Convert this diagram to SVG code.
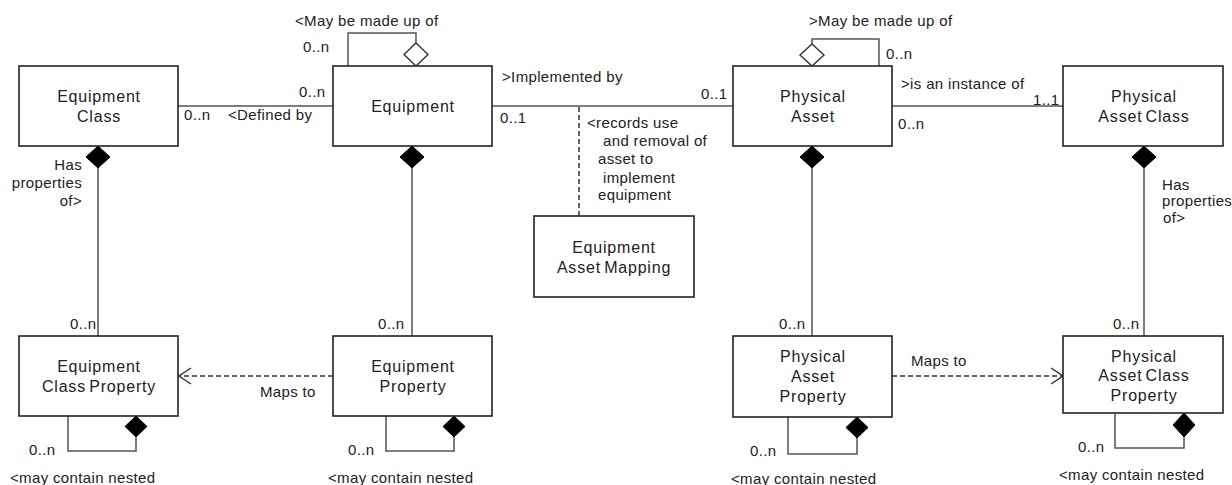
<svg xmlns="http://www.w3.org/2000/svg" width="1232" height="485" viewBox="0 0 1232 485">
<style>
.box{fill:#fff;stroke:#222;stroke-width:1.6}
.nt{font-family:"Liberation Sans",Arial,sans-serif;font-size:16px;letter-spacing:0.8px;word-spacing:-2px;fill:#222;text-anchor:middle}
.lb{font-family:"Liberation Sans",Arial,sans-serif;font-size:15px;letter-spacing:0.35px;fill:#222}
.ln{fill:none;stroke:#555;stroke-width:1.5}
.dash{fill:none;stroke:#333;stroke-width:1.5;stroke-dasharray:5 3}
.fd{fill:#000;stroke:#000;stroke-width:1}
.hd{fill:#fff;stroke:#333;stroke-width:1.4}
</style>
<defs>
<marker id="open" viewBox="0 0 14 18" refX="13" refY="9" markerWidth="14" markerHeight="18" markerUnits="userSpaceOnUse" orient="auto">
<path d="M1,1 L13,9 L1,17" fill="none" stroke="#333" stroke-width="1.4"/>
</marker>
</defs>
<rect width="1232" height="485" fill="#fff"/>
<g id="connectors">
<path class="ln" d="M178,106 H333"/>
<path class="ln" d="M492,106 H733"/>
<path class="ln" d="M892,106 H1063"/>
<path class="ln" d="M98,168 V336"/>
<path class="ln" d="M412,168 V336"/>
<path class="ln" d="M812,168 V336"/>
<path class="ln" d="M1144,168 V336"/>
<path class="ln" d="M348,66 V33 H416 V43"/>
<path class="ln" d="M879,66 V39 H812 V44"/>
<path class="ln" d="M68,416 V451 H136 V437"/>
<path class="ln" d="M386,416 V451 H454 V437"/>
<path class="ln" d="M788,417 V454 H857 V438"/>
<path class="ln" d="M1115,413 V448 H1184 V437"/>
<path class="dash" d="M579,107 V216"/>
<path class="dash" d="M333,376 H179" marker-end="url(#open)"/>
<path class="dash" d="M892,376 H1063" marker-end="url(#open)"/>
<polygon class="fd" points="98,146 110,157 98,168 86,157"/>
<polygon class="fd" points="412,146 424,157 412,168 400,157"/>
<polygon class="fd" points="812,146 824,157 812,168 800,157"/>
<polygon class="fd" points="1144,146 1156,157 1144,168 1132,157"/>
<polygon class="hd" points="416,43 428,54.5 416,66 404,54.5"/>
<polygon class="hd" points="812,44 824,55 812,66 800,55"/>
<polygon class="fd" points="136,416 147,426.5 136,437 125,426.5"/>
<polygon class="fd" points="454,416 465,426.5 454,437 443,426.5"/>
<polygon class="fd" points="857,417 868,427.5 857,438 846,427.5"/>
<polygon class="fd" points="1184,413 1195,425 1184,437 1173,425"/>
<text class="lb" x="295" y="26">&lt;May be made up of</text>
<text class="lb" x="303" y="52">0..n</text>
<text class="lb" x="299" y="97">0..n</text>
<text class="lb" x="184" y="120">0..n</text>
<text class="lb" x="228" y="120">&lt;Defined by</text>
<text class="lb" x="82" y="170" text-anchor="end">Has</text>
<text class="lb" x="82" y="188" text-anchor="end">properties</text>
<text class="lb" x="82" y="206" text-anchor="end">of&gt;</text>
<text class="lb" x="502" y="82">&gt;Implemented by</text>
<text class="lb" x="500" y="123">0..1</text>
<text class="lb" x="701" y="99">0..1</text>
<text class="lb" x="587" y="128">&lt;records use</text>
<text class="lb" x="603" y="146">and removal of</text>
<text class="lb" x="598" y="164">asset to</text>
<text class="lb" x="603" y="183">implement</text>
<text class="lb" x="598" y="200">equipment</text>
<text class="lb" x="809" y="26">&gt;May be made up of</text>
<text class="lb" x="886" y="59">0..n</text>
<text class="lb" x="901" y="89">&gt;is an instance of</text>
<text class="lb" x="1033" y="105">1..1</text>
<text class="lb" x="898" y="129">0..n</text>
<text class="lb" x="1162" y="190">Has</text>
<text class="lb" x="1162" y="206">properties</text>
<text class="lb" x="1163" y="223">of&gt;</text>
<text class="lb" x="70" y="329">0..n</text>
<text class="lb" x="378" y="329">0..n</text>
<text class="lb" x="779" y="329">0..n</text>
<text class="lb" x="1113" y="329">0..n</text>
<text class="lb" x="260" y="397">Maps to</text>
<text class="lb" x="911" y="366">Maps to</text>
<text class="lb" x="29" y="455">0..n</text>
<text class="lb" x="348" y="455">0..n</text>
<text class="lb" x="750" y="456">0..n</text>
<text class="lb" x="1078" y="452">0..n</text>
<text class="lb" x="10" y="483">&lt;may contain nested</text>
<text class="lb" x="328" y="483">&lt;may contain nested</text>
<text class="lb" x="731" y="484">&lt;may contain nested</text>
<text class="lb" x="1059" y="480">&lt;may contain nested</text>
</g>
<g id="equipment-class">
<rect class="box" x="19" y="66" width="159" height="80"/>
<text class="nt" x="99" y="102">Equipment</text>
<text class="nt" x="99" y="122">Class</text>
</g>
<g id="equipment">
<rect class="box" x="333" y="66" width="159" height="80"/>
<text class="nt" x="413" y="112">Equipment</text>
</g>
<g id="physical-asset">
<rect class="box" x="733" y="66" width="159" height="80"/>
<text class="nt" x="813" y="102">Physical</text>
<text class="nt" x="813" y="122">Asset</text>
</g>
<g id="physical-asset-class">
<rect class="box" x="1063" y="66" width="160" height="80"/>
<text class="nt" x="1144" y="102">Physical</text>
<text class="nt" x="1144" y="122">Asset Class</text>
</g>
<g id="equipment-asset-mapping">
<rect class="box" x="534" y="216" width="160" height="81"/>
<text class="nt" x="614" y="253">Equipment</text>
<text class="nt" x="614" y="273">Asset Mapping</text>
</g>
<g id="equipment-class-property">
<rect class="box" x="19" y="336" width="159" height="80"/>
<text class="nt" x="99" y="372">Equipment</text>
<text class="nt" x="99" y="392">Class Property</text>
</g>
<g id="equipment-property">
<rect class="box" x="333" y="336" width="159" height="80"/>
<text class="nt" x="413" y="372">Equipment</text>
<text class="nt" x="413" y="392">Property</text>
</g>
<g id="physical-asset-property">
<rect class="box" x="733" y="336" width="159" height="81"/>
<text class="nt" x="813" y="362">Physical</text>
<text class="nt" x="813" y="382">Asset</text>
<text class="nt" x="813" y="402">Property</text>
</g>
<g id="physical-asset-class-property">
<rect class="box" x="1063" y="336" width="160" height="77"/>
<text class="nt" x="1144" y="362">Physical</text>
<text class="nt" x="1144" y="381">Asset Class</text>
<text class="nt" x="1144" y="401">Property</text>
</g>
</svg>
